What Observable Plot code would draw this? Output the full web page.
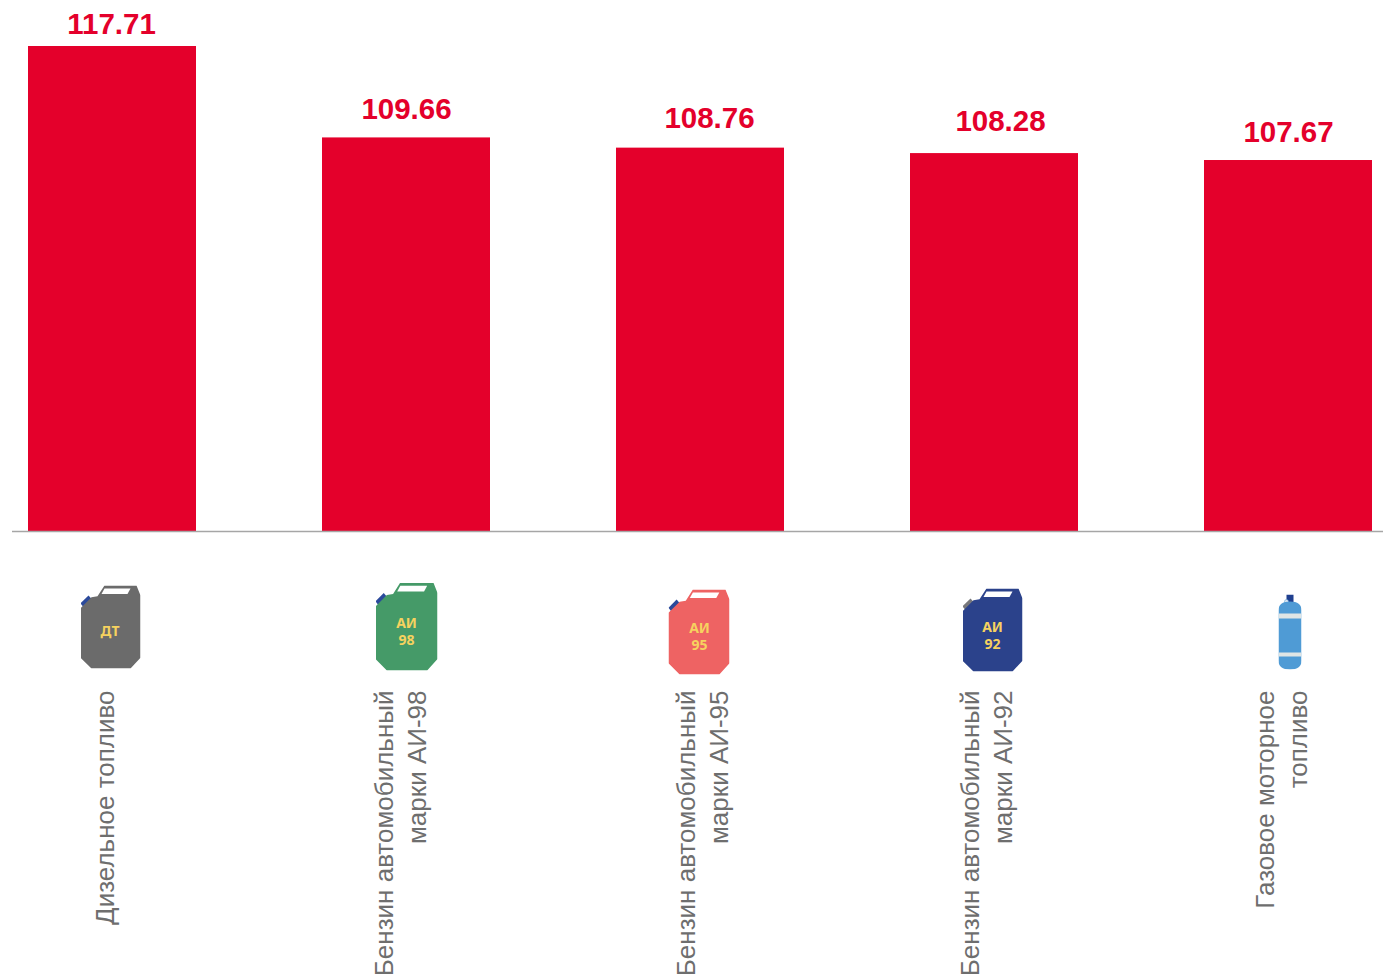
<!DOCTYPE html>
<html lang="ru">
<head>
<meta charset="utf-8">
<style>html,body{margin:0;padding:0;background:#fff;overflow:hidden}svg{display:block}</style>
<script src="https://cdn.jsdelivr.net/npm/d3@7"></script>
<script src="https://cdn.jsdelivr.net/npm/@observablehq/plot@0.6"></script>
</head>
<body>
<div id="chart"></div>
<script>
const categories = ["Дизельное топливо", "Бензин автомобильный\nмарки АИ-98", "Бензин автомобильный\nмарки АИ-95", "Бензин автомобильный\nмарки АИ-92", "Газовое моторное\nтопливо"];
const values = [117.71, 109.66, 108.76, 108.28, 107.67];
const valueLabels = ["117.71", "109.66", "108.76", "108.28", "107.67"];
const iconLabels = ["ДТ", "АИ\n98", "АИ\n95", "АИ\n92", ""];
const iconFills = ["#6b6b6b", "#459a68", "#ee6363", "#2b428b", "#4f9bd5"];
const capFills = ["#2b4a9b", "#2b4a9b", "#2b4a9b", "#77777a", "#1f3f8f"];

// Layout nudges, in pixels, relative to each band's centre and the baseline
const valueNudge = [[-1, -22], [0, -28], [9, -30], [6, -32], [0, -28]];
const nameNudge = [-9, -8, 0, -10, -9];
const iconBox = [[-2, 95.5, 60, 83], [0, 95, 62, 88], [-1.5, 100.5, 61, 85], [-2, 98.5, 60, 83], [1.5, 100.5, 23, 75]];
const iconTextNudge = [[-2.5, 99], [0, 100], [-1, 105], [-2, 103.5], [0, 100]];

const baseline = 75;
const rows = categories.map((name, i) => ({name, value: values[i], label: valueLabels[i], i}));

function canister(fill, cap) {
  return `<svg xmlns="http://www.w3.org/2000/svg" viewBox="0 0 60 84" preserveAspectRatio="none">
  <path d="M0 18L8 10L11 13.500L3 22Z" fill="${cap}"/>
  <path d="M0 23L11 12L17 11L24 0L56 0L60 10L60 73L50 84L11 84L0 73Z" fill="${fill}"/>
  <path d="M24 3L50 3L47 8.500L21 8.500Z" fill="#fff"/></svg>`;
}
function bottle(fill, cap) {
  return `<svg xmlns="http://www.w3.org/2000/svg" viewBox="0 0 23 75" preserveAspectRatio="none">
  <rect x="8" y="0" width="7" height="8" fill="${cap}"/>
  <circle cx="8" cy="7" r="2" fill="#dfe8f2" stroke="#4f9bd5" stroke-width="0.500"/>
  <path d="M0 16Q0 7 11.500 7Q23 7 23 16L23 66Q23 75 11.500 75Q0 75 0 66Z" fill="${fill}"/>
  <rect x="0" y="19" width="23" height="5" fill="#dfe5e5"/>
  <rect x="0" y="58" width="23" height="4" fill="#dfe5e5"/></svg>`;
}
const dataUrl = s => "data:image/svg+xml;charset=utf-8," + encodeURIComponent(s);

const perRow = fn => rows.map(d => fn(d));

const chart = Plot.plot({
  width: 1383,
  height: 975,
  marginLeft: 12,
  marginRight: 0,
  marginTop: 0,
  marginBottom: 0,
  style: {background: "#fff", fontFamily: "'Liberation Sans', Arial, sans-serif"},
  x: {domain: categories, range: [-35, 1435], paddingInner: 0.4286, paddingOuter: 0.2143, align: 0.5, axis: null},
  y: {domain: [baseline, 117.71], range: [531, 46], axis: null},
  marks: [
    Plot.barY(rows, {x: "name", y1: baseline, y2: "value", fill: "#e4002b"}),
    Plot.ruleY([baseline], {stroke: "#a6a6a6", strokeWidth: 1.5}),
    ...perRow(d => Plot.text([d], {
      x: "name", y: "value", text: "label",
      dx: valueNudge[d.i][0], dy: valueNudge[d.i][1],
      fill: "#e4002b", fontSize: 29.500, fontWeight: 700
    })),
    ...perRow(d => Plot.image([d], {
      x: "name", y: () => baseline,
      src: () => dataUrl(d.i === 4 ? bottle(iconFills[4], capFills[4]) : canister(iconFills[d.i], capFills[d.i])),
      dx: iconBox[d.i][0], dy: iconBox[d.i][1],
      width: iconBox[d.i][2], height: iconBox[d.i][3],
      preserveAspectRatio: "none"
    })),
    ...perRow(d => Plot.text([d], {
      x: "name", y: () => baseline, text: () => iconLabels[d.i],
      dx: iconTextNudge[d.i][0], dy: iconTextNudge[d.i][1],
      fill: "#f6d25f", fontSize: 14, fontWeight: 700, lineHeight: 1.2,
      fontFamily: "'Noto Sans', sans-serif"
    })),
    ...perRow(d => Plot.text([d], {
      x: "name", y: () => baseline, text: "name",
      dx: nameNudge[d.i], dy: 159,
      rotate: -90, textAnchor: "end", lineAnchor: "middle",
      fill: "#6e6e6e", fontSize: 26, lineHeight: 1.27
    }))
  ]
});
document.getElementById("chart").appendChild(chart);
</script>
</body>
</html>
